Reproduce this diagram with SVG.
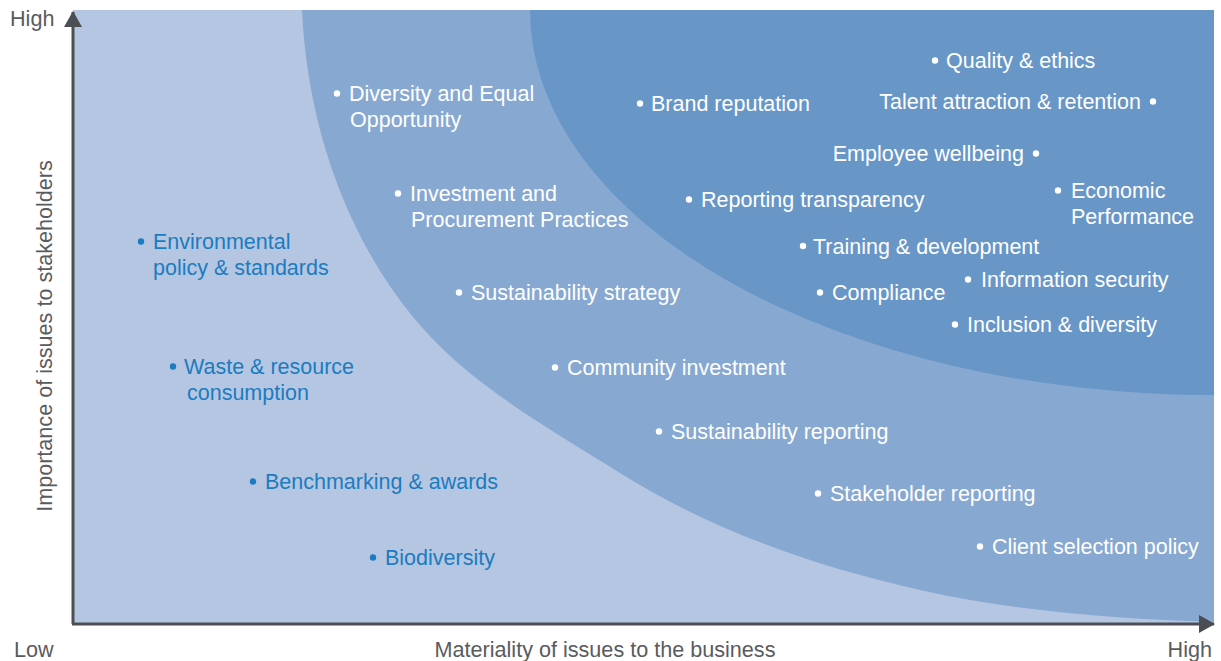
<svg xmlns="http://www.w3.org/2000/svg" width="1221" height="661" viewBox="0 0 1221 661">
<style>
text{font-family:"Liberation Sans",Arial,sans-serif;font-size:21.5px}
.w{fill:#ffffff}
.b{fill:#1b7cc0}
.ax{fill:#5a5b5e;font-size:21.6px}
.dw{fill:#ffffff}
.db{fill:#1b7cc0}
.axis{stroke:#4b4e53;stroke-width:3;fill:none}
</style>
<defs>
<marker id="arr" viewBox="0 0 16 18" refX="15" refY="9" markerWidth="16" markerHeight="18" markerUnits="userSpaceOnUse" orient="auto">
<path d="M0,0 L16,9 L0,18 Z" fill="#4b4e53"/>
</marker>
</defs>
<g id="zones">
<rect x="73" y="10" width="1141" height="614" fill="#b5c6e2"/>
<path d="M302,10 C307,120 343.4,231.9 413,317 C467.4,383.6 547.2,427.2 620,473 C710.5,530 815.6,566.7 920,590 C1016.6,611.6 1115,619 1214,622 L1214,10 Z" fill="#87a8d1"/>
<path d="M530,10 A684,385 0 0 0 1214,395 L1214,10 Z" fill="#6896c7"/>
</g>
<g id="connectors">
<line class="axis" x1="73" y1="624" x2="73" y2="12" marker-end="url(#arr)"/>
<line class="axis" x1="72" y1="624" x2="1214" y2="624" marker-end="url(#arr)"/>
</g>
<g id="axis-labels">
<text class="ax" x="10" y="26">High</text>
<text class="ax" x="14" y="657">Low</text>
<text class="ax" x="1212" y="657" text-anchor="end">High</text>
<text class="ax" x="605" y="657" text-anchor="middle">Materiality of issues to the business</text>
<text class="ax" transform="translate(52,336) rotate(-90)" text-anchor="middle">Importance of issues to stakeholders</text>
</g>
<g id="n-quality"><circle class="dw" cx="935" cy="60.5" r="3.2"/><text class="w" x="946" y="68">Quality &amp; ethics</text></g>
<g id="n-talent"><circle class="dw" cx="1153" cy="101.5" r="3.2"/><text class="w" x="1141" y="109" text-anchor="end">Talent attraction &amp; retention</text></g>
<g id="n-brand"><circle class="dw" cx="640" cy="103.5" r="3.2"/><text class="w" x="651" y="111">Brand reputation</text></g>
<g id="n-diversity"><circle class="dw" cx="337" cy="93.5" r="3.2"/><text class="w" x="349" y="101">Diversity and Equal</text><text class="w" x="350" y="127">Opportunity</text></g>
<g id="n-employee"><circle class="dw" cx="1036" cy="153.5" r="3.2"/><text class="w" x="1024" y="161" text-anchor="end">Employee wellbeing</text></g>
<g id="n-economic"><circle class="dw" cx="1058" cy="190.5" r="3.2"/><text class="w" x="1071" y="198">Economic</text><text class="w" x="1071" y="224">Performance</text></g>
<g id="n-investment"><circle class="dw" cx="398" cy="193.5" r="3.2"/><text class="w" x="410" y="201">Investment and</text><text class="w" x="411" y="227">Procurement Practices</text></g>
<g id="n-reporting"><circle class="dw" cx="689" cy="199.5" r="3.2"/><text class="w" x="701" y="207">Reporting transparency</text></g>
<g id="n-training"><circle class="dw" cx="803" cy="246" r="3.2"/><text class="w" x="813" y="254">Training &amp; development</text></g>
<g id="n-environmental"><circle class="db" cx="141" cy="241.5" r="3.2"/><text class="b" x="153" y="249">Environmental</text><text class="b" x="153" y="275">policy &amp; standards</text></g>
<g id="n-infosec"><circle class="dw" cx="968" cy="279.5" r="3.2"/><text class="w" x="981" y="287">Information security</text></g>
<g id="n-strategy"><circle class="dw" cx="459" cy="292.5" r="3.2"/><text class="w" x="471" y="300">Sustainability strategy</text></g>
<g id="n-compliance"><circle class="dw" cx="820" cy="292.5" r="3.2"/><text class="w" x="832" y="300">Compliance</text></g>
<g id="n-inclusion"><circle class="dw" cx="955" cy="324.5" r="3.2"/><text class="w" x="967" y="332">Inclusion &amp; diversity</text></g>
<g id="n-waste"><circle class="db" cx="173" cy="366.5" r="3.2"/><text class="b" x="184" y="374">Waste &amp; resource</text><text class="b" x="187" y="400">consumption</text></g>
<g id="n-community"><circle class="dw" cx="555" cy="367.5" r="3.2"/><text class="w" x="567" y="375">Community investment</text></g>
<g id="n-sreporting"><circle class="dw" cx="659" cy="431.5" r="3.2"/><text class="w" x="671" y="439">Sustainability reporting</text></g>
<g id="n-benchmarking"><circle class="db" cx="253" cy="481.5" r="3.2"/><text class="b" x="265" y="489">Benchmarking &amp; awards</text></g>
<g id="n-stakeholder"><circle class="dw" cx="818" cy="493.5" r="3.2"/><text class="w" x="830" y="501">Stakeholder reporting</text></g>
<g id="n-client"><circle class="dw" cx="980" cy="546.5" r="3.2"/><text class="w" x="992" y="554">Client selection policy</text></g>
<g id="n-biodiversity"><circle class="db" cx="373" cy="557.5" r="3.2"/><text class="b" x="385" y="565">Biodiversity</text></g>
</svg>
